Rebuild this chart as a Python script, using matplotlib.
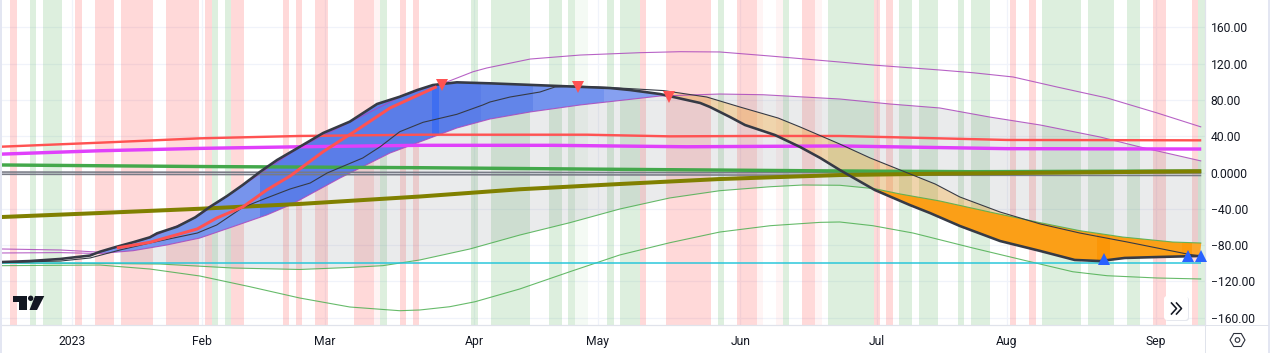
import numpy as np
import matplotlib
matplotlib.use("Agg")
import matplotlib.pyplot as plt
from matplotlib.patches import Rectangle, Polygon, FancyBboxPatch, Circle
from matplotlib.lines import Line2D
from matplotlib.transforms import IdentityTransform

plt.rcParams['font.family'] = ['Roboto', 'DejaVu Sans']

# ---- data (x = trading-bar number, 0 = first bar of 2023) ----
month_bars = [0, 20, 39, 62, 81, 103, 124, 144, 167]
month_labels = ['2023', 'Feb', 'Mar', 'Apr', 'May', 'Jun', 'Jul', 'Aug', 'Sep']
price_ticks = [160, 120, 80, 40, 0, -40, -80, -120, -160]
price_labels = ['160.00', '120.00', '80.00', '40.00', '0.0000', '\u221240.00', '\u221280.00', '\u2212120.00', '\u2212160.00']

main_x = [-10.8, -6.5, -1.8, 2.8, 4.3, 6.9, 9.4, 12, 13.1, 16.2, 19, 21.3, 23.9, 26.3, 29, 31.6, 34.7, 38.7, 42.8, 47, 50.5, 53.2, 55.6, 59.3, 64.4, 75.2, 82.9, 86,
          90.6, 96.8, 98.3, 101.4, 103.7, 108.3, 112.2, 115.3, 118.3, 123.7, 129.1, 132.2, 136.8, 143, 149.2, 154.5, 158.4, 162.2, 167.6, 173.8]
main_y = [-98.8, -97.7, -95.4, -91.6, -87.4, -81.9, -77, -71.5, -67.1, -59.8, -49.4, -37.7, -25.9, -13.8, 0.9, 13.8, 26.7, 43.6, 56.1, 75.6, 83.6, 91, 96.5, 99.5, 98.4, 95.4, 93.2, 91,
          86.6, 76.7, 72.3, 61.2, 52.4, 41.4, 28.1, 16, 2.8, -19.3, -35.9, -44.7, -59, -75.6, -86.6, -96.5, -97.7, -94.3, -93.2, -92.1]

signal_x = [-10.8, -1.8, 2.8, 7.4, 12, 19.3, 22.3, 26.3, 30, 33.6, 36.7, 39.3, 44.8, 47.5, 50.5, 54.1, 59.3, 63.3, 64.4, 67.5, 72.1, 74.4, 77.5, 84.4,
            91.1, 97.8, 102.9, 108.8, 112.2, 118.3, 123, 127.6, 133, 136.8, 143, 149.2, 155.3, 162.6, 171.8, 173.8]
signal_y = [-99.3, -97.7, -94.3, -85.5, -77.8, -66.8, -57.9, -38.6, -28.1, -18.2, -11.6, -0.6, 16, 28.5, 45, 55.4, 64.2, 74.5, 77.8, 83.3, 88.8, 94.3, 95.4, 93.2,
            90.4, 83.3, 72.3, 60.1, 50.2, 31.4, 16, 2.8, -12.7, -27, -43.6, -56.8, -66.8, -76.7, -89.9, -92.1]

inner_up_x = [-10.8, -1.8, 4.3, 9.4, 14.6, 19.7, 24.8, 30, 33.6, 35.1, 41.3, 49, 54.1, 59.3, 64.4, 70.6, 78.3, 90.6, 99.8, 106.5, 118.3, 126, 133.7, 141.4, 149.2, 158.4, 164.6, 174]
inner_up_y = [-88.8, -88.4, -89.4, -86.3, -80, -72.3, -59.8, -46.9, -35.9, -30.3, -6.1, 21.5, 35.1, 49.1, 59, 66.8, 74.5, 84.4, 86.6, 85.8, 81.1, 75.6, 71.2, 61.2, 52.4, 39.2, 28.1, 12.7]

outer_up_x = [-10.8, -1.8, 4.3, 6.9, 12, 19, 26.3, 34.7, 42.8, 50.5, 55.6, 57.8, 61.8, 63.9, 70.6, 78.3, 87.5, 93.7, 99.8, 107.6, 118.3, 123.4, 133.7, 138.8, 145, 151.8, 159.5, 167.2, 174]
outer_up_y = [-84.4, -85.5, -87.9, -82.4, -72, -50, -14.3, 26.2, 55.6, 83.1, 96, 100, 111.2, 115.3, 125.2, 129.6, 132.2, 133.3, 133, 128.5, 121.9, 118.6, 113.1, 110.1, 105.4, 94.3, 82.2, 65.7, 50.2]

inner_dn_x = [-10.8, 4.3, 13.6, 24.8, 35.1, 42.8, 47.9, 53.6, 61.3, 69, 76.7, 84.4, 92.1, 99.8, 107.6, 112.6, 118.3, 123.7, 127.6, 133.7, 141.4, 149.2, 155.3, 161.9, 169.6, 174]
inner_dn_y = [-99.9, -100.4, -101, -105.4, -107, -104.8, -102.8, -96.5, -84.4, -69, -55.4, -40.3, -28.1, -20.1, -15.7, -13.8, -14.1, -17.9, -23.7, -31.4, -43.6, -55.4, -64.2, -71.2, -76.7, -77.8]

outer_dn_x = [-10.8, 4.3, 12, 19.7, 27.4, 35.1, 42.8, 50.5, 53.6, 58.2, 62.1, 69, 76.7, 84.4, 92.1, 99.8, 107.6, 115.3, 118.3, 123.4, 129.6, 138.8, 146.5, 154.2, 159.5, 167.2, 174]
outer_dn_y = [-102.8, -102.1, -106.5, -114.2, -126, -138.5, -148.4, -152.5, -151.7, -148.1, -142.6, -128.5, -109.5, -91, -77.5, -65.7, -58.7, -55, -54.6, -58.7, -66.8, -83.3, -96.5, -109.5, -113.9, -116.4, -117.5]

swing_x = [6.9, 12, 19.3, 22.3, 26.3, 30, 33.6, 38.7, 43.9, 49, 56.2]
swing_y = [-83.3, -77, -62.3, -50.2, -38.1, -19.3, -3.9, 23, 46.9, 71.2, 94.7]

red_ma_x = [-10.8, 4.3, 19.7, 35.1, 53.6, 79.4, 92.1, 104.9, 118.3, 144.1, 174]
red_ma_y = [28.5, 32.9, 37.7, 40.3, 41.7, 41.7, 39.9, 40.3, 40.3, 35.9, 35.5]
mag_ma_x = [-10.8, 4.3, 19.7, 35.1, 53.6, 74.1, 94.7, 118.3, 144.1, 174]
mag_ma_y = [20.3, 24, 26.6, 28.4, 30, 30, 28.4, 29.3, 26.3, 25.9]
grn_ma_x = [-10.8, 19.7, 53.6, 84.4, 118.3, 138.8, 174]
grn_ma_y = [8.3, 6.6, 5.3, 3.5, 1.7, 0.9, 1.7]
olive_x = [-10.8, 4.3, 19.7, 35.1, 53.6, 69, 84.4, 99.8, 118.3, 133.7, 174]
olive_y = [-49.1, -44.7, -40, -34.7, -26.5, -18.5, -12.7, -7.2, -2.8, -1.3, 1.3]
grey_x = [-10.8, 174]
grey_a = [0.5, -0.5]
grey_b = [-2, -3.3]
floor_x = [-10.8, 174]
floor_y = [-100, -100]

peak_x = [57, 78, 92]
peak_y = [96, 94.5, 83.3]
trough_x = [159, 172, 173.9]
trough_y = [-95, -92, -91.6]

red_runs = [(-9, -9), (1, 1), (4, 6), (8, 12), (15, 19), (21, 21), (25, 26), (33, 33), (35, 35), (38, 39), (44, 46), (51, 51), (53, 53),
            (88, 88), (92, 98), (103, 105), (113, 114), (124, 124), (126, 126), (145, 145), (148, 148), (167, 168), (173, 173)]
faint_red_runs = [(47, 47), (106, 106), (109, 109), (115, 115)]
green_runs = [(-6, -6), (-4, -2), (22, 22), (24, 24), (48, 48), (62, 62), (65, 70), (74, 75), (77, 77), (83, 83), (85, 87), (100, 100),
              (110, 110), (117, 123), (128, 129), (131, 133), (137, 137), (139, 141), (150, 155), (157, 160), (163, 164), (174, 174)]
faint_green_runs = [(78, 79)]

# bar ranges and tints of the blue / orange fills
blue_tints = [(3, 29, '#7794ec'), (29, 55.5, '#5a7de8'), (55.5, 56.5, '#3f6ef0'), (56.5, 63, '#5a7de8'), (63, 71, '#6285e9'), (71, 82, '#7393ee'), (82, 91.5, '#86a0f0')]
orange_tints = [(123.7, 158, '#fb9f17'), (158, 160, '#fb9607'), (160, 171, '#fb9f17'), (171, 172.5, '#fc9a0c'), (172.5, 174.2, '#fca62a')]

# ---- figure ----
W, H = 1270, 353
fig = plt.figure(figsize=(W / 100, H / 100), dpi=100, facecolor='white')
L, R, B, T = 2, 1205, 325, 0
ax = fig.add_axes([L / W, 1 - B / H, (R - L) / W, (B - T) / H])
ax.set_xlim((L - 72) / 6.49, (R - 72) / 6.49)
ax.set_ylim(1.1034 * (172.5 - 325), 1.1034 * 172.5)
ax.set_facecolor('white')

GRID = '#f0f3fa'
ax.set_axisbelow(True)
ax.grid(True, color=GRID, lw=0.9)
for s in ('top', 'left'):
    ax.spines[s].set_visible(False)
for s in ('right', 'bottom'):
    ax.spines[s].set_color('#e0e3eb')
    ax.spines[s].set_linewidth(0.9)
ax.yaxis.tick_right()
ax.set_yticks(price_ticks, price_labels)
ax.set_xticks(month_bars, month_labels)
ax.tick_params(axis='both', length=0, labelsize=8.7, labelcolor='#131722')
ax.tick_params(axis='y', pad=4)
ax.tick_params(axis='x', pad=7)

def runs(items, color, alpha):
    for a, b in items:
        ax.axvspan(a - 0.5, b + 0.5, color=color, alpha=alpha, lw=0, zorder=1)

runs(red_runs, '#ff5252', 0.22)
runs(green_runs, '#4caf50', 0.19)
runs(faint_red_runs, '#ff5252', 0.06)
runs(faint_green_runs, '#4caf50', 0.06)

def band(xa, ya, xb, yb, start, end, color, alpha, z):
    poly = ax.fill(np.r_[xa, xb[::-1]], np.r_[ya, yb[::-1]], color=color, alpha=alpha, lw=0, zorder=z)[0]
    poly.set_clip_path(Rectangle((start, -400), end - start, 800, transform=ax.transData))

band(inner_up_x, inner_up_y, inner_dn_x, inner_dn_y, 7.4, 174.2, '#787b86', 0.15, 2)
band(main_x, main_y, signal_x, signal_y, 91.5, 174.2, '#ff9800', 0.27, 3)
for a, b, c in blue_tints:
    band(main_x, main_y, inner_up_x, inner_up_y, a, b, c, 1, 4)
for a, b, c in orange_tints:
    band(main_x, main_y, inner_dn_x, inner_dn_y, a, b, c, 1, 4)

def ln(x, y, color, px, z=5, alpha=1.0):
    ax.plot(x, y, color=color, lw=px * 0.72, alpha=alpha, zorder=z, solid_capstyle='butt', solid_joinstyle='round')

ln(outer_up_x, outer_up_y, '#ab47bc', 1.1, alpha=0.85)
ln(inner_up_x, inner_up_y, '#ab47bc', 1.1, alpha=0.85)
ln(inner_dn_x, inner_dn_y, '#4caf50', 1.1, alpha=0.85)
ln(outer_dn_x, outer_dn_y, '#4caf50', 1.1, alpha=0.85)
ln(grey_x, grey_a, '#787b86', 1.6)
ln(grey_x, grey_b, '#787b86', 1.6)
ln(floor_x, floor_y, '#26c6da', 1.5)
ln(grn_ma_x, grn_ma_y, '#43a84b', 3.4)
ln(red_ma_x, red_ma_y, '#ff5252', 2.4)
ln(mag_ma_x, mag_ma_y, '#e040fb', 3.4)
ln(olive_x, olive_y, '#808000', 4)
ln(signal_x, signal_y, '#363a45', 1.1, z=6)
ln(main_x, main_y, '#363a45', 2.6, z=6)
ln(swing_x, swing_y, '#ff5252', 3, z=7)
ax.plot(peak_x, peak_y, ls='none', marker='v', color='#ff5252', ms=8, mew=0, zorder=8)
ax.plot(trough_x, trough_y, ls='none', marker='^', color='#2962ff', ms=8, mew=0, zorder=8, clip_on=False)

# ---- interface furniture (in page pixels) ----
pix = IdentityTransform()
def P(x, y):
    return (x, H - y)
def add_line(pts, color, px, z=21):
    xs, ys = zip(*[P(*p) for p in pts])
    fig.add_artist(Line2D(xs, ys, transform=pix, color=color, lw=px * 0.72, zorder=z))

fig.add_artist(Rectangle((0, 0), 2, H, transform=pix, color='#e3e6f2', lw=0))
fig.add_artist(Rectangle((1268, 0), 2, H, transform=pix, color='#e3e6f2', lw=0))
add_line([(1205, 325), (1268, 325)], '#e0e3eb', 1)
add_line([(1205, 325), (1205, 353)], '#e0e3eb', 1)

k = '#131722'
for pts in ([(13.3, 296), (26.7, 296), (26.7, 310), (19, 310), (19, 302), (13.3, 302)],
            [(35, 296), (44.3, 296), (37, 310), (29.5, 310)]):
    fig.add_artist(Polygon([P(*p) for p in pts], closed=True, transform=pix, color=k, lw=0, zorder=20))
fig.add_artist(Circle(P(30.7, 298.3), 2.7, transform=pix, color=k, lw=0, zorder=20))

fig.add_artist(FancyBboxPatch((1166, H - 320), 22, 22, boxstyle='round,pad=1,rounding_size=3', transform=pix,
                              fc='#e6e8ee', ec='none', zorder=19))
fig.add_artist(FancyBboxPatch((1165, H - 319), 22, 22, boxstyle='round,pad=1,rounding_size=3', transform=pix,
                              fc='white', ec='none', zorder=20))
for x0 in (1171.5, 1176.5):
    add_line([(x0, 303), (x0 + 5, 308.5), (x0, 314)], k, 1.6)

cx, cy, r = 1237.5, 340, 7.5
hexa = [P(cx + r * np.cos(a), cy + r * np.sin(a)) for a in np.radians([0, 60, 120, 180, 240, 300])]
fig.add_artist(Polygon(hexa, closed=True, transform=pix, fill=False, ec='#2a2e39', lw=0.8))
fig.add_artist(Circle(P(cx, cy), 2.3, transform=pix, fill=False, ec='#2a2e39', lw=0.8))

fig.savefig('out.png', dpi=100)
